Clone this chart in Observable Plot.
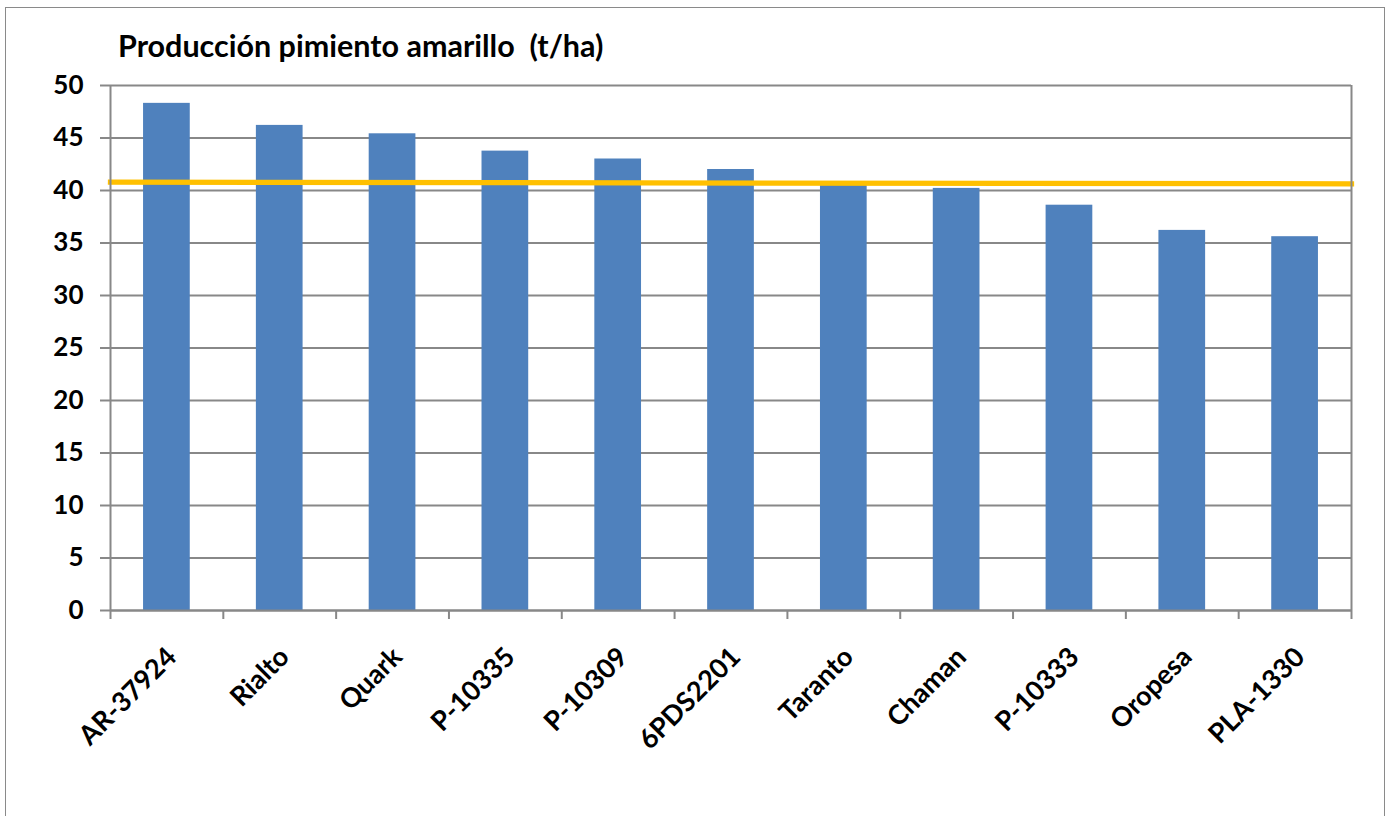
<!DOCTYPE html>
<html>
<head>
<meta charset="utf-8">
<script src="https://cdn.jsdelivr.net/npm/d3@7"></script>
<script src="https://cdn.jsdelivr.net/npm/@observablehq/plot@0.6"></script>
<style>
  html, body { margin: 0; padding: 0; background: #fff; }
  #wrap { position: relative; width: 1386px; height: 816px; overflow: hidden; font-family: Lato, "Open Sans", sans-serif; }
  #border { position: absolute; left: 5px; top: 7px; width: 1380px; height: 830px; border: 1.5px solid #8a8a8a; box-sizing: border-box; }
  #title { position: absolute; left: 118px; top: 27px; font-size: 30.5px; line-height: 36px; font-weight: bold; color: #000; white-space: pre; }
  #chart { position: absolute; left: 0; top: 0; }
</style>
</head>
<body>
<div id="wrap">
  <div id="border"></div>
  <div id="chart"></div>
  <div id="title">Producción pimiento amarillo  (t/ha)</div>
</div>
<script>
const categories = ["AR-37924", "Rialto", "Quark", "P-10335", "P-10309", "6PDS2201", "Taranto", "Chaman", "P-10333", "Oropesa", "PLA-1330"];
const values = [48.3, 46.2, 45.4, 43.75, 43.0, 42.0, 40.6, 40.2, 38.6, 36.2, 35.6];
const averageLine = [40.79, 40.64];
const yTicks = [0, 5, 10, 15, 20, 25, 30, 35, 40, 45, 50];

const bars = categories.map((c, i) => ({i, name: c, value: values[i]}));
const n = categories.length;
const lineData = [{x: -0.5, y: averageLine[0]}, {x: n - 0.5, y: averageLine[1]}];
const boundaries = d3.range(n + 1).map(k => k - 0.5);
const half = 0.207;

const chart = Plot.plot({
  width: 1386,
  height: 816,
  marginLeft: 110,
  marginRight: 35,
  marginTop: 85,
  marginBottom: 206,
  style: {fontFamily: "Lato, 'Open Sans', sans-serif", background: "transparent"},
  x: {type: "linear", domain: [-0.5, n - 0.5], axis: null},
  y: {domain: [0, 50], axis: null},
  marks: [
    Plot.gridY(yTicks, {stroke: "#888888", strokeOpacity: 1, strokeWidth: 2}),
    Plot.rectY(bars, {x1: d => d.i - half, x2: d => d.i + half, y1: 0, y2: "value", fill: "#4F81BD"}),
    Plot.line(lineData, {x: "x", y: "y", stroke: "#FFC000", strokeWidth: 5.3, strokeLinecap: "square"}),
    Plot.ruleX([-0.5, n - 0.5], {stroke: "#888888", strokeWidth: 2}),
    Plot.ruleY([0], {stroke: "#888888", strokeWidth: 2}),
    Plot.axisY({ticks: yTicks, tickSize: 10, tickPadding: 17, fontSize: 26, fontWeight: "bold", fill: "#000", stroke: "#888888", strokeWidth: 2, strokeOpacity: 1, label: null}),
    Plot.axisX({ticks: boundaries, tickSize: 9, tickFormat: () => "", stroke: "#888888", strokeWidth: 2, strokeOpacity: 1, label: null}),
    Plot.axisX({ticks: d3.range(n), tickSize: 0, tickPadding: 42, tickRotate: -45, tickFormat: i => categories[i], fontSize: 27, fontWeight: "bold", fill: "#000", dx: 5, label: null})
  ]
});
document.getElementById("chart").appendChild(chart);
</script>
</body>
</html>
